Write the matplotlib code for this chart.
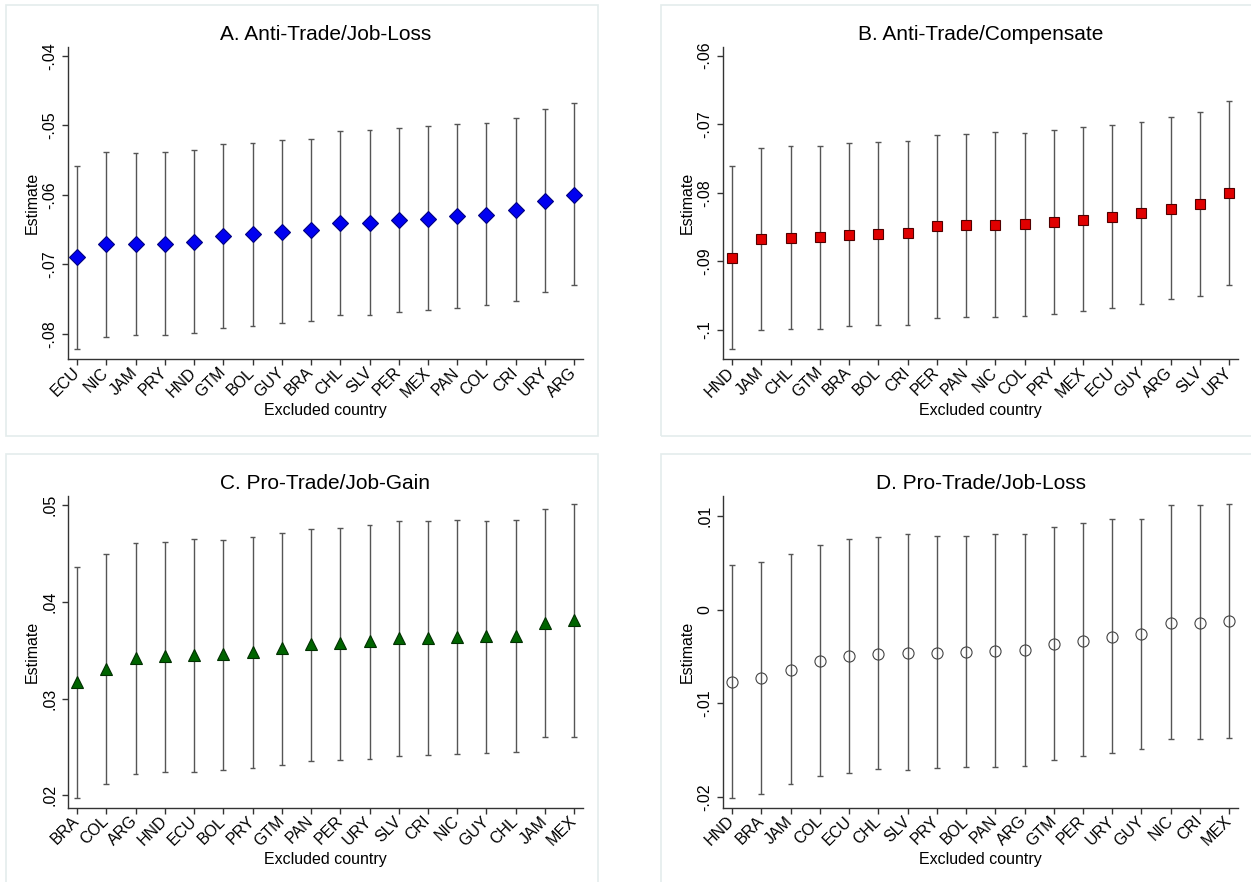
import matplotlib
matplotlib.use("Agg")
import matplotlib.pyplot as plt
from matplotlib.patches import Rectangle
from matplotlib.ticker import FuncFormatter, FixedLocator

plt.rcParams["font.family"] = ["Liberation Sans", "DejaVu Sans"]

W, H = 1251, 882

# panel A: anti-trade / job-loss
a_countries = ["ECU", "NIC", "JAM", "PRY", "HND", "GTM", "BOL", "GUY", "BRA",
               "CHL", "SLV", "PER", "MEX", "PAN", "COL", "CRI", "URY", "ARG"]
a_est = [-0.0690, -0.0671, -0.0671, -0.0670, -0.0668, -0.0659, -0.0656, -0.0653, -0.0651,
         -0.0640, -0.0640, -0.0636, -0.0634, -0.0630, -0.0629, -0.0622, -0.0609, -0.0600]
a_hi = [-0.0558, -0.0539, -0.0540, -0.0539, -0.0536, -0.0527, -0.0525, -0.0521, -0.0520,
        -0.0508, -0.0507, -0.0504, -0.0501, -0.0498, -0.0497, -0.0490, -0.0476, -0.0468]
a_lo = [-0.0822, -0.0804, -0.0802, -0.0801, -0.0799, -0.0791, -0.0788, -0.0784, -0.0782,
        -0.0772, -0.0773, -0.0768, -0.0765, -0.0762, -0.0759, -0.0753, -0.0740, -0.0730]

# panel B: anti-trade / compensate
b_countries = ["HND", "JAM", "CHL", "GTM", "BRA", "BOL", "CRI", "PER", "PAN",
               "NIC", "COL", "PRY", "MEX", "ECU", "GUY", "ARG", "SLV", "URY"]
b_est = [-0.0895, -0.0868, -0.0866, -0.0865, -0.0861, -0.0860, -0.0859, -0.0848, -0.0847,
         -0.0847, -0.0846, -0.0843, -0.0839, -0.0835, -0.0829, -0.0823, -0.0817, -0.0800]
b_hi = [-0.0761, -0.0735, -0.0732, -0.0731, -0.0728, -0.0726, -0.0724, -0.0715, -0.0714,
        -0.0712, -0.0713, -0.0709, -0.0704, -0.0701, -0.0696, -0.0689, -0.0682, -0.0666]
b_lo = [-0.1028, -0.1000, -0.0999, -0.0999, -0.0994, -0.0993, -0.0993, -0.0982, -0.0981,
        -0.0981, -0.0979, -0.0977, -0.0973, -0.0968, -0.0962, -0.0955, -0.0951, -0.0934]

# panel C: pro-trade / job-gain
c_countries = ["BRA", "COL", "ARG", "HND", "ECU", "BOL", "PRY", "GTM", "PAN",
               "PER", "URY", "SLV", "CRI", "NIC", "GUY", "CHL", "JAM", "MEX"]
c_est = [0.0317, 0.0331, 0.0342, 0.0344, 0.0345, 0.0346, 0.0348, 0.0352, 0.0356,
         0.0357, 0.0359, 0.0363, 0.0363, 0.0364, 0.0365, 0.0365, 0.0378, 0.0381]
c_hi = [0.0436, 0.0449, 0.0461, 0.0462, 0.0465, 0.0464, 0.0467, 0.0471, 0.0475,
        0.0476, 0.0479, 0.0483, 0.0483, 0.0484, 0.0483, 0.0484, 0.0496, 0.0501]
c_lo = [0.0197, 0.0212, 0.0222, 0.0224, 0.0224, 0.0226, 0.0228, 0.0231, 0.0235,
        0.0236, 0.0238, 0.0241, 0.0242, 0.0243, 0.0244, 0.0245, 0.0260, 0.0260]

# panel D: pro-trade / job-loss
d_countries = ["HND", "BRA", "JAM", "COL", "ECU", "CHL", "SLV", "PRY", "BOL",
               "PAN", "ARG", "GTM", "PER", "URY", "GUY", "NIC", "CRI", "MEX"]
d_est = [-0.0077, -0.0073, -0.0064, -0.0055, -0.0050, -0.0047, -0.0046, -0.0046, -0.0045,
         -0.0044, -0.0043, -0.0037, -0.0033, -0.0029, -0.0026, -0.0014, -0.0014, -0.0012]
d_hi = [0.0047, 0.0051, 0.0059, 0.0069, 0.0075, 0.0077, 0.0080, 0.0078, 0.0078,
        0.0080, 0.0080, 0.0088, 0.0092, 0.0096, 0.0097, 0.0111, 0.0111, 0.0112]
d_lo = [-0.0201, -0.0196, -0.0186, -0.0177, -0.0174, -0.0170, -0.0171, -0.0169, -0.0168,
        -0.0168, -0.0167, -0.0160, -0.0156, -0.0153, -0.0149, -0.0138, -0.0138, -0.0137]


def stata_fmt(v, pos=None):
    # stata style: drop the leading zero (-0.04 -> -.04)
    s = f"{v:g}"
    return s.replace("0.", ".")


def px_axes(fig, left, top, right, bottom):
    return fig.add_axes([left / W, 1 - bottom / H, (right - left) / W, (bottom - top) / H])


def draw_panel(ax, title, countries, est, lo, hi, ticks, ylim, marker, mfc, mec, ms):
    x = list(range(len(countries)))
    ax.vlines(x, lo, hi, color="#555555", lw=1.0, zorder=2)
    ax.hlines(lo, [i - 0.1 for i in x], [i + 0.1 for i in x], color="#555555", lw=1.0, zorder=2)
    ax.hlines(hi, [i - 0.1 for i in x], [i + 0.1 for i in x], color="#555555", lw=1.0, zorder=2)
    ax.plot(x, est, linestyle="none", marker=marker, ms=ms, mfc=mfc, mec=mec,
            mew=0.8, zorder=3)

    ax.set_xlim(-0.32, len(countries) - 1 + 0.31)
    ax.set_ylim(*ylim)
    ax.set_xticks(x)
    ax.set_xticklabels(countries, rotation=45, ha="right", va="center",
                       rotation_mode="anchor", fontsize=11.5)
    ax.yaxis.set_major_locator(FixedLocator(ticks))
    ax.yaxis.set_major_formatter(FuncFormatter(stata_fmt))
    for lab in ax.get_yticklabels():
        lab.set_rotation(90)
        lab.set_va("center")
        lab.set_fontsize(11.5)

    for side in ["top", "right"]:
        ax.spines[side].set_visible(False)
    for side in ["left", "bottom"]:
        ax.spines[side].set_color("#333333")
        ax.spines[side].set_linewidth(1.0)
    ax.tick_params(length=4.5, width=1.0, color="#333333", pad=3)
    ax.tick_params(axis="x", pad=3.5)
    ax.set_facecolor("white")

    ax.set_title(title, fontsize=15, pad=5)
    ax.set_ylabel("Estimate", fontsize=11.5, va="center")
    ax.yaxis.set_label_coords(-0.068, 0.5)
    ax.set_xlabel("Excluded country", fontsize=11.5, va="center")
    ax.xaxis.set_label_coords(0.5, -0.166)


fig = plt.figure(figsize=(W / 100, H / 100), dpi=100)

# light outer frames around each panel
for (l, t, r, b) in [(6.3, 5, 598, 436), (661.3, 5, 1262, 436),
                     (6.3, 454, 598, 895), (661.3, 454, 1262, 895)]:
    fig.patches.append(Rectangle((l / W, 1 - b / H), (r - l) / W, (b - t) / H,
                                 transform=fig.transFigure, fill=False,
                                 edgecolor="#e4ecec", lw=1.2))

axA = px_axes(fig, 67.7, 46.7, 583.3, 359)
axB = px_axes(fig, 722.7, 46.7, 1238.3, 359)
axC = px_axes(fig, 67.7, 495.7, 583.3, 807.7)
axD = px_axes(fig, 722.7, 495.7, 1238.3, 807.7)

draw_panel(axA, "A. Anti-Trade/Job-Loss", a_countries, a_est, a_lo, a_hi,
           [-0.08, -0.07, -0.06, -0.05, -0.04], (-0.08359, -0.03871),
           "D", "#0000f0", "#000080", 8.5)
draw_panel(axB, "B. Anti-Trade/Compensate", b_countries, b_est, b_lo, b_hi,
           [-0.1, -0.09, -0.08, -0.07, -0.06], (-0.10423, -0.05869),
           "s", "#e00000", "#500000", 7.5)
draw_panel(axC, "C. Pro-Trade/Job-Gain", c_countries, c_est, c_lo, c_hi,
           [0.02, 0.03, 0.04, 0.05], (0.01872, 0.05096),
           "^", "#006400", "#003000", 8)
draw_panel(axD, "D. Pro-Trade/Job-Loss", d_countries, d_est, d_lo, d_hi,
           [-0.02, -0.01, 0.0, 0.01], (-0.02111, 0.01213),
           "o", "none", "#444444", 8)

fig.savefig("out.png", dpi=100)
